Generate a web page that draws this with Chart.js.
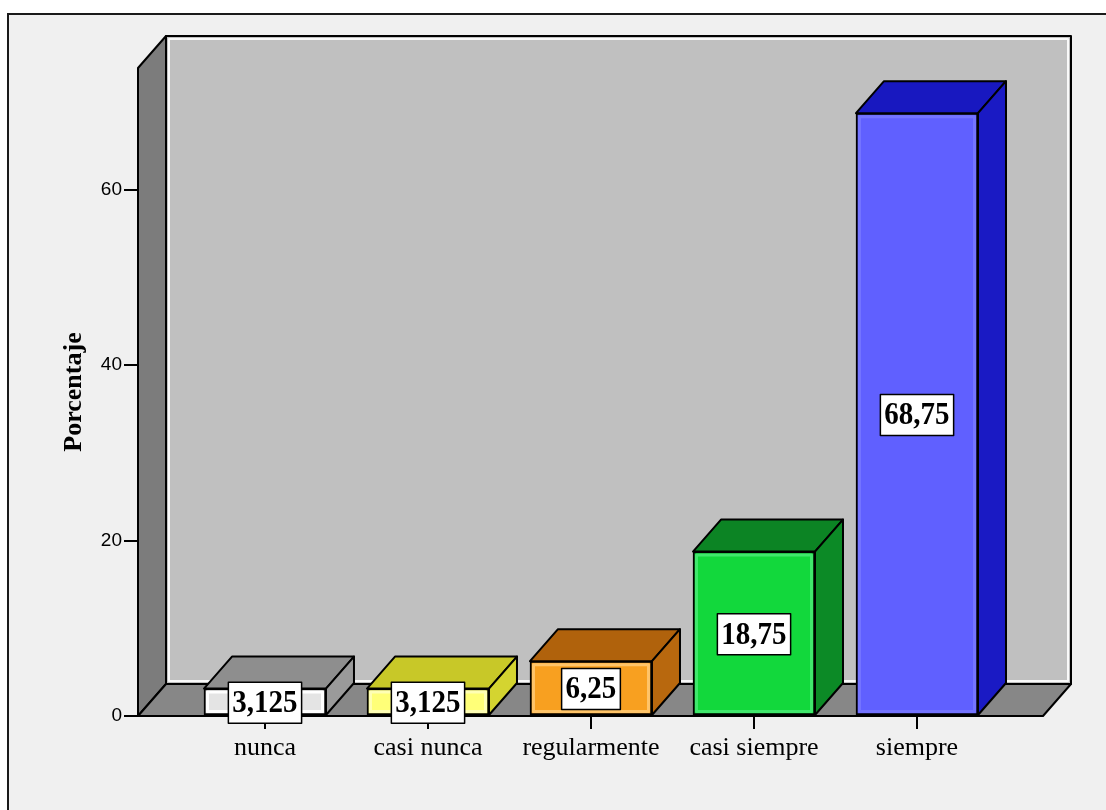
<!DOCTYPE html>
<html lang="es">
<head>
<meta charset="utf-8">
<title>Porcentaje</title>
<script src="https://cdn.jsdelivr.net/npm/chart.js@4.4.1/dist/chart.umd.min.js"></script>
<style>
    html, body { margin: 0; padding: 0; background: #fff; }
    #wrap { position: relative; width: 1106px; height: 810px; }
</style>
</head>
<body>
<div id="wrap"><canvas id="grafico"></canvas></div>
<script>
// Datos
const categorias = ['nunca', 'casi nunca', 'regularmente', 'casi siempre', 'siempre'];
const porcentajes = [3.125, 3.125, 6.25, 18.75, 68.75];
const ticksY = [0, 20, 40, 60];

// Colores de cada barra: cara frontal, tapa, lateral y brillo del borde
const coloresFrente = ['#e4e4e4', '#ffff78', '#f8a020', '#12d83c', '#6060ff'];
const coloresTapa = ['#8e8e8e', '#c8c828', '#b0620c', '#0c8424', '#1818c0'];
const coloresLado = ['#9a9a9a', '#d4d430', '#b8680e', '#0c8a26', '#1a1ac4'];
const coloresBrillo = ['#ffffff', '#ffffb4', '#ffc468', '#40e86c', '#7474ff'];

// Profundidad del efecto 3D (px)
const PROF_X = 28;
const PROF_Y = 32;

function poligono(ctx, puntos, relleno) {
    ctx.beginPath();
    ctx.moveTo(puntos[0][0], puntos[0][1]);
    for (let i = 1; i < puntos.length; i++) ctx.lineTo(puntos[i][0], puntos[i][1]);
    ctx.closePath();
    ctx.fillStyle = relleno;
    ctx.fill();
    ctx.stroke();
}

function formatoValor(v) {
    return String(v).replace('.', ',');
}

const caja3d = {
    id: 'caja3d',
    beforeDraw(chart) {
        const ctx = chart.ctx;
        ctx.save();
        ctx.fillStyle = '#ffffff';
        ctx.fillRect(0, 0, chart.width, chart.height);
        ctx.fillStyle = '#f0f0f0';
        ctx.fillRect(8, 14, chart.width, chart.height);
        ctx.strokeStyle = '#1a1a1a';
        ctx.lineWidth = 2;
        ctx.beginPath();
        ctx.moveTo(8, chart.height);
        ctx.lineTo(8, 14);
        ctx.lineTo(chart.width, 14);
        ctx.stroke();
        ctx.restore();
    },
    beforeDatasetsDraw(chart) {
        const ctx = chart.ctx;
        const a = chart.chartArea;
        ctx.save();
        ctx.lineWidth = 2;
        ctx.lineJoin = 'round';
        ctx.strokeStyle = '#000';

        // pared del fondo
        poligono(ctx, [
            [a.left + PROF_X, a.top - PROF_Y], [a.right + PROF_X, a.top - PROF_Y],
            [a.right + PROF_X, a.bottom - PROF_Y], [a.left + PROF_X, a.bottom - PROF_Y]
        ], '#c0c0c0');
        ctx.save();
        ctx.strokeStyle = 'rgba(255,255,255,0.9)';
        ctx.lineWidth = 2;
        ctx.strokeRect(a.left + PROF_X + 3, a.top - PROF_Y + 3, a.right - a.left - 6, a.bottom - a.top - 6);
        ctx.restore();

        // pared izquierda
        poligono(ctx, [
            [a.left, a.top], [a.left + PROF_X, a.top - PROF_Y],
            [a.left + PROF_X, a.bottom - PROF_Y], [a.left, a.bottom]
        ], '#7c7c7c');

        // suelo
        poligono(ctx, [
            [a.left, a.bottom], [a.left + PROF_X, a.bottom - PROF_Y],
            [a.right + PROF_X, a.bottom - PROF_Y], [a.right, a.bottom]
        ], '#878787');
        ctx.restore();
    },
    afterDatasetsDraw(chart) {
        const ctx = chart.ctx;
        const meta = chart.getDatasetMeta(0);
        ctx.save();
        ctx.lineJoin = 'round';

        meta.data.forEach((barra, i) => {
            const p = barra.getProps(['x', 'y', 'base', 'width'], true);
            const izq = p.x - p.width / 2;
            const der = p.x + p.width / 2;
            const arriba = p.y;
            const abajo = p.base;

            // brillo interior de la cara frontal
            ctx.strokeStyle = coloresBrillo[i];
            ctx.lineWidth = 3;
            ctx.strokeRect(izq + 3.5, arriba + 3.5, p.width - 7, abajo - arriba - 7);

            ctx.strokeStyle = '#000';
            ctx.lineWidth = 2;
            // tapa
            poligono(ctx, [
                [izq, arriba], [izq + PROF_X, arriba - PROF_Y],
                [der + PROF_X, arriba - PROF_Y], [der, arriba]
            ], coloresTapa[i]);
            // lateral
            poligono(ctx, [
                [der, arriba], [der + PROF_X, arriba - PROF_Y],
                [der + PROF_X, abajo - PROF_Y], [der, abajo]
            ], coloresLado[i]);
        });

        // etiquetas con el valor de cada barra (texto algo estirado en vertical)
        ctx.font = 'bold 29px "Liberation Serif", "Times New Roman", serif';
        ctx.textAlign = 'center';
        ctx.textBaseline = 'middle';
        const estiramiento = 1.12;
        meta.data.forEach((barra, i) => {
            const p = barra.getProps(['x', 'y', 'base'], true);
            const texto = formatoValor(porcentajes[i]);
            const ancho = ctx.measureText(texto).width + 8;
            const alto = 41;
            const cy = (p.y + p.base) / 2 + 1;
            ctx.fillStyle = '#ffffff';
            ctx.fillRect(p.x - ancho / 2, cy - alto / 2, ancho, alto);
            ctx.strokeStyle = '#000';
            ctx.lineWidth = 1.5;
            ctx.strokeRect(p.x - ancho / 2, cy - alto / 2, ancho, alto);
            ctx.save();
            ctx.translate(p.x, cy + 1);
            ctx.scale(1, estiramiento);
            ctx.fillStyle = '#000';
            ctx.fillText(texto, 0, 0);
            ctx.restore();
        });
        ctx.restore();
    }
};

const ctx = document.getElementById('grafico');
new Chart(ctx, {
    type: 'bar',
    data: {
        datasets: [{
            label: 'Porcentaje',
            data: categorias.map((c, i) => ({ x: i, y: porcentajes[i] })),
            backgroundColor: coloresFrente,
            borderColor: '#000',
            borderWidth: 2,
            borderSkipped: false,
            barThickness: 122
        }]
    },
    options: {
        responsive: true,
        maintainAspectRatio: false,
        animation: false,
        layout: {
            padding: { left: 55, top: 68, right: 63, bottom: 0 }
        },
        plugins: {
            legend: { display: false },
            title: { display: false },
            tooltip: { enabled: false }
        },
        scales: {
            x: {
                type: 'linear',
                min: -0.779,
                max: 4.773,
                offset: false,
                afterFit(scale) { scale.height = 94; },
                afterBuildTicks(scale) {
                    scale.ticks = categorias.map((c, i) => ({ value: i }));
                },
                ticks: {
                    autoSkip: false,
                    maxRotation: 0,
                    padding: 4,
                    color: '#000',
                    font: { family: '"Liberation Serif", "Times New Roman", serif', size: 26 },
                    callback: (v) => categorias[v] ?? ''
                },
                grid: {
                    offset: false,
                    drawOnChartArea: false,
                    drawTicks: true,
                    tickLength: 13,
                    color: '#000',
                    lineWidth: 2
                },
                border: { display: false }
            },
            y: {
                min: 0,
                max: 73.9,
                afterFit(scale) { scale.width = 83; },
                afterBuildTicks(scale) {
                    scale.ticks = ticksY.map(v => ({ value: v }));
                },
                ticks: {
                    padding: 2,
                    color: '#000',
                    font: { family: '"Liberation Sans", Arial, sans-serif', size: 19 }
                },
                grid: {
                    drawOnChartArea: false,
                    drawTicks: true,
                    tickLength: 14,
                    color: '#000',
                    lineWidth: 2
                },
                border: { display: false },
                title: {
                    display: true,
                    text: 'Porcentaje',
                    color: '#000',
                    font: { family: '"Liberation Serif", "Times New Roman", serif', size: 26, weight: 'bold' },
                    padding: { top: 4, bottom: 4 }
                }
            }
        }
    },
    plugins: [caja3d]
});
</script>
</body>
</html>
